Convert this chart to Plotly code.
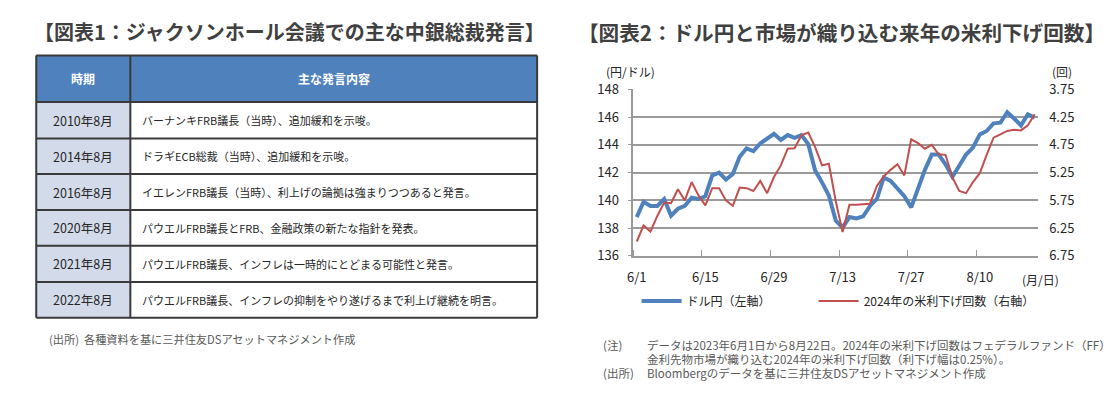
import plotly.graph_objects as go
import pandas as pd

# ---------------- data ----------------
dates = [f"{d.month}/{d.day}" for d in pd.bdate_range("2023-06-01", "2023-08-22")]

usdjpy = [138.8, 139.9, 139.6, 139.6, 140.1, 138.9, 139.4, 139.6, 140.2, 140.1,
          140.3, 141.8, 142.0, 141.5, 141.9, 143.15, 143.75, 143.55, 144.1, 144.45,
          144.8, 144.35, 144.7, 144.5, 144.7, 144.05, 142.15, 141.3, 140.35, 138.55,
          138.05, 138.8, 138.7, 138.85, 139.6, 140.1, 141.65, 141.4, 140.9, 140.3,
          139.5, 140.9, 142.2, 143.3, 143.3, 142.6, 141.7, 142.5, 143.3, 143.8,
          144.75, 145.0, 145.55, 145.6, 146.35, 145.9, 145.4, 146.2, 145.95]

rate_cuts_2024 = [6.49, 6.20, 6.31, 6.03, 5.79, 5.80, 5.55, 5.75, 5.42, 5.66,
                  5.84, 5.53, 5.53, 5.75, 5.85, 5.52, 5.53, 5.58, 5.40, 5.62,
                  5.33, 5.12, 4.82, 4.81, 4.58, 4.53, 4.79, 5.12, 5.09, 5.76,
                  6.32, 5.83, 5.83, 5.82, 5.81, 5.49, 5.32, 5.20, 5.10, 5.30,
                  4.65, 4.72, 4.82, 4.75, 4.92, 4.93, 5.33, 5.58, 5.62, 5.42,
                  5.26, 4.93, 4.62, 4.56, 4.50, 4.48, 4.49, 4.40, 4.20]

x_tick_labels = ["6/1", "6/15", "6/29", "7/13", "7/27", "8/10"]
left_ticks = [136, 138, 140, 142, 144, 146, 148]
right_ticks = [3.75, 4.25, 4.75, 5.25, 5.75, 6.25, 6.75]

series_names = ["ドル円（左軸）", "2024年の米利下げ回数（右軸）"]

title1 = "【図表1：ジャクソンホール会議での主な中銀総裁発言】"
title2 = "【図表2：ドル円と市場が織り込む来年の米利下げ回数】"

table_header = ["時期", "主な発言内容"]
table_periods = ["2010年8月", "2014年8月", "2016年8月", "2020年8月", "2021年8月", "2022年8月"]
table_remarks = [
    "バーナンキFRB議長（当時）、追加緩和を示唆。",
    "ドラギECB総裁（当時）、追加緩和を示唆。",
    "イエレンFRB議長（当時）、利上げの論拠は強まりつつあると発言。",
    "パウエルFRB議長とFRB、金融政策の新たな指針を発表。",
    "パウエルFRB議長、インフレは一時的にとどまる可能性と発言。",
    "パウエルFRB議長、インフレの抑制をやり遂げるまで利上げ継続を明言。",
]

source_left = "(出所)  各種資料を基に三井住友DSアセットマネジメント作成"
note_label = "(注)"
note_line1 = "データは2023年6月1日から8月22日。2024年の米利下げ回数はフェデラルファンド（FF）"
note_line2 = "金利先物市場が織り込む2024年の米利下げ回数（利下げ幅は0.25%）。"
source_label = "(出所)"
source_right = "Bloombergのデータを基に三井住友DSアセットマネジメント作成"

# ---------------- layout helpers ----------------
W, H = 1118, 397
FONT = "Noto Sans CJK JP"
TEXT = "#404040"
NOTE = "#595959"
DARK = "#262626"


def px(x):
    return x / W


def py(y):
    return 1 - y / H


# chart plot area (pixels)
PL, PR, PT, PB = 630.7, 1037.7, 83.3, 258.3

xi = list(range(len(dates)))

fig = go.Figure()
fig.add_trace(go.Scatter(x=xi, y=usdjpy, name=series_names[0], mode="lines",
                         line=dict(color="#4F81BD", width=4), yaxis="y", legend="legend"))
fig.add_trace(go.Scatter(x=xi, y=rate_cuts_2024, name=series_names[1], mode="lines",
                         line=dict(color="#C0504D", width=2), yaxis="y2", legend="legend2"))

shapes = []
annotations = []

# ---------------- table (left panel) ----------------
TL, TC, TR = 30.4, 125.0, 534.0
row_edges = [47.7, 96.7, 135.0, 172.3, 210.0, 247.7, 285.7, 323.3]
BORDER = "#3A3A3A"

shapes.append(dict(type="rect", xref="paper", yref="paper", x0=px(TL), x1=px(TR),
                   y0=py(row_edges[1]), y1=py(row_edges[0]),
                   fillcolor="#4F81BD", line=dict(width=0), layer="below"))
shapes.append(dict(type="rect", xref="paper", yref="paper", x0=px(TL), x1=px(TC),
                   y0=py(row_edges[-1]), y1=py(row_edges[1]),
                   fillcolor="#D3DBEA", line=dict(width=0), layer="below"))
for ye in row_edges:
    shapes.append(dict(type="line", xref="paper", yref="paper", x0=px(TL), x1=px(TR),
                       y0=py(ye), y1=py(ye), line=dict(color=BORDER, width=2)))
for xe in (TL, TC, TR):
    shapes.append(dict(type="line", xref="paper", yref="paper", x0=px(xe), x1=px(xe),
                       y0=py(row_edges[-1]), y1=py(row_edges[0]),
                       line=dict(color=BORDER, width=2)))

hy = (row_edges[0] + row_edges[1]) / 2
annotations.append(dict(x=px((TL + TC) / 2), y=py(hy), text=f"<b>{table_header[0]}</b>",
                        font=dict(family=FONT, size=12, color="white")))
annotations.append(dict(x=px((TC + TR) / 2), y=py(hy), text=f"<b>{table_header[1]}</b>",
                        font=dict(family=FONT, size=12, color="white")))
for k, (per, rem) in enumerate(zip(table_periods, table_remarks)):
    cy = (row_edges[k + 1] + row_edges[k + 2]) / 2
    annotations.append(dict(x=px((TL + TC) / 2), y=py(cy), text=per,
                            font=dict(family=FONT, size=12.5, color=DARK)))
    annotations.append(dict(x=px(135), y=py(cy), text=rem, xanchor="left",
                            font=dict(family=FONT, size=11, color=DARK)))

# titles
annotations.append(dict(x=px(285), y=py(22.7), text=f"<b>{title1}</b>",
                        font=dict(family=FONT, size=20, color=TEXT)))
annotations.append(dict(x=px(840), y=py(22.7), text=f"<b>{title2}</b>",
                        font=dict(family=FONT, size=20.6, color=TEXT)))

# left source
annotations.append(dict(x=px(41), y=py(345.7), text=source_left, xanchor="left",
                        font=dict(family=FONT, size=11.2, color=NOTE)))

# chart unit labels
annotations.append(dict(x=px(627.6), y=py(65), text="(円/ドル)",
                        font=dict(family=FONT, size=12, color=DARK)))
annotations.append(dict(x=px(1062), y=py(65), text="(回)",
                        font=dict(family=FONT, size=12, color=DARK)))
annotations.append(dict(x=px(1039.7), y=py(283.3), text="(月/日)",
                        font=dict(family=FONT, size=12, color=DARK)))

# notes (right)
NX0, NX1 = 598.5, 642.0
annotations.append(dict(x=px(NX0), y=py(351.7), text=note_label, xanchor="left",
                        font=dict(family=FONT, size=11.5, color=NOTE)))
annotations.append(dict(x=px(NX1), y=py(351.7), text=note_line1, xanchor="left",
                        font=dict(family=FONT, size=11.5, color=NOTE)))
annotations.append(dict(x=px(NX1), y=py(366.7), text=note_line2, xanchor="left",
                        font=dict(family=FONT, size=11.5, color=NOTE)))
annotations.append(dict(x=px(NX0), y=py(381), text=source_label, xanchor="left",
                        font=dict(family=FONT, size=11.5, color=NOTE)))
annotations.append(dict(x=px(NX1), y=py(381), text=source_right, xanchor="left",
                        font=dict(family=FONT, size=11.5, color=NOTE)))

for a in annotations:
    a.setdefault("xref", "paper")
    a.setdefault("yref", "paper")
    a.setdefault("xanchor", "center")
    a.setdefault("yanchor", "middle")
    a["showarrow"] = False

GRID = "#9A9A9A"
legend_common = dict(orientation="h", yanchor="middle", xanchor="left",
                     font=dict(family=FONT, size=12, color=DARK),
                     bgcolor="rgba(0,0,0,0)", itemwidth=40)
fig.update_layout(
    width=W, height=H, autosize=False,
    margin=dict(l=0, r=0, t=0, b=0),
    paper_bgcolor="white", plot_bgcolor="white",
    font=dict(family=FONT, size=13, color=DARK),
    shapes=shapes, annotations=annotations,
    showlegend=True,
    legend=dict(x=px(634), y=py(305.7), **legend_common),
    legend2=dict(x=px(812), y=py(305.7), **legend_common),
    xaxis=dict(domain=[px(PL), px(PR)], range=[-0.5, len(dates) - 0.5],
               tickmode="array",
               tickvals=[dates.index(t) for t in x_tick_labels], ticktext=x_tick_labels,
               ticks="", showgrid=False, zeroline=False,
               showline=True, linecolor=GRID, linewidth=1.5,
               ticklabelstandoff=9,
               minor=dict(tickmode="linear", tick0=-0.5, dtick=10, ticks="inside",
                          ticklen=6, tickcolor=GRID, tickwidth=1, showgrid=False),
               tickfont=dict(size=13, color=DARK), fixedrange=True),
    yaxis=dict(domain=[py(PB), py(PT)], range=[136, 148], tickvals=left_ticks,
               showgrid=True, gridcolor=GRID, gridwidth=1.5, zeroline=False,
               showline=True, linecolor=GRID, linewidth=1.5,
               ticks="outside", ticklen=4, tickcolor=GRID,
               ticklabelstandoff=6,
               tickfont=dict(size=13, color=DARK), fixedrange=True),
    yaxis2=dict(overlaying="y", side="right", range=[6.75, 3.75], tickvals=right_ticks,
                ticktext=[f"{v:.2f}" for v in right_ticks],
                showgrid=False, zeroline=False, showline=False, ticks="",
                ticklabelstandoff=10,
                tickfont=dict(size=13, color=DARK), fixedrange=True),
)

fig.write_html("out.html", config={"displayModeBar": False},
               post_script="document.body.style.margin='0';document.body.style.overflow='hidden';")
